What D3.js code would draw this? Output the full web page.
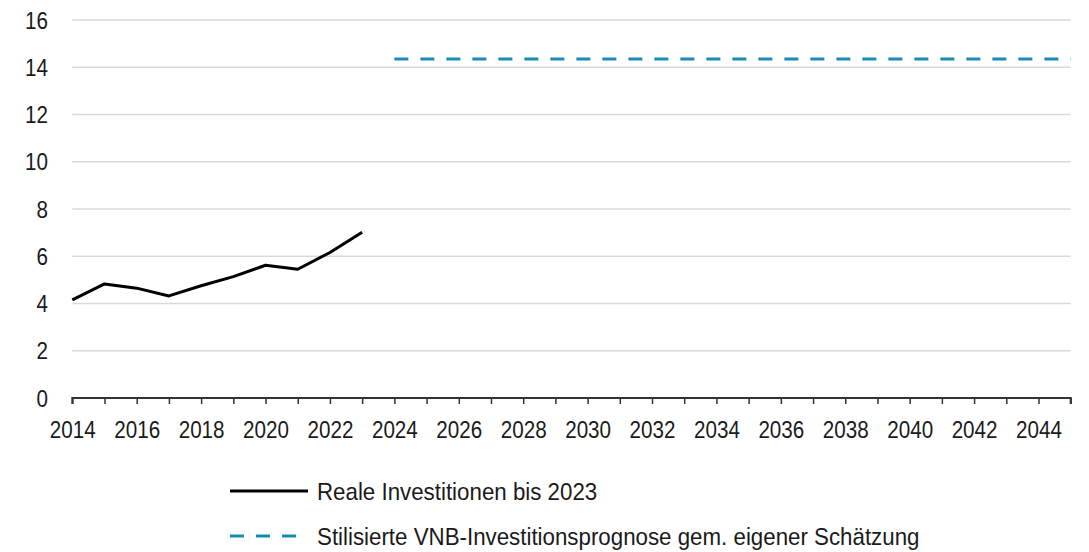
<!DOCTYPE html>
<html><head><meta charset="utf-8">
<script src="https://cdn.jsdelivr.net/npm/d3@7"></script>
<style>body{margin:0;background:#fff}svg text{font-family:"Liberation Sans",Arial,sans-serif;fill:#1a1a1a}</style>
</head><body><svg id="c" width="1089" height="552"></svg>
<script>
const years = [2014,2015,2016,2017,2018,2019,2020,2021,2022,2023];
const realInvest = [4.15,4.83,4.65,4.32,4.75,5.14,5.62,5.45,6.16,7.02];
const forecastYears = [2024,2045];
const forecastValues = [14.35,14.35];
const yTicks = [0,2,4,6,8,10,12,14,16];
const legendLabels = ["Reale Investitionen bis 2023","Stilisierte VNB-Investitionsprognose gem. eigener Schätzung"];

const svg = d3.select("#c");
const x = d3.scaleLinear().domain([2014,2045]).range([72.3,1070.7]);
const y = d3.scaleLinear().domain([0,16]).range([398,20]);
const sx = 0.86;

// gridlines
svg.append("g").selectAll("line").data(yTicks.filter(d=>d>0)).join("line")
  .attr("x1",x(2014)).attr("x2",x(2045)).attr("y1",d=>y(d)).attr("y2",d=>y(d))
  .attr("stroke","#d9d9d9").attr("stroke-width",1.5);

// y labels
svg.append("g").selectAll("text").data(yTicks).join("text")
  .attr("transform",d=>`translate(48,${y(d)}) scale(${sx},1)`).attr("dy","0.36em").attr("text-anchor","end")
  .attr("font-size",24).text(d=>d);

// x axis
const xAxis = d3.axisBottom(x).tickValues(d3.range(2014,2046)).tickSize(6).tickFormat(d=> (d%2===0 && d<2045)? d : "");
const gx = svg.append("g").attr("transform",`translate(0,${y(0)})`).call(xAxis);
gx.select(".domain").attr("stroke","#333").attr("stroke-width",2).attr("d",`M${x(2014)},6V0H${x(2045)}V6`);
gx.selectAll(".tick line").attr("stroke","#333").attr("stroke-width",1.5);
gx.selectAll(".tick text").attr("font-size",24).attr("y",0).attr("dy","0").attr("fill","#1a1a1a")
  .attr("transform",`translate(0,40) scale(${sx},1)`)
  .style("font-family",'"Liberation Sans",Arial,sans-serif');

// real line
svg.append("path").datum(years.map((d,i)=>[d,realInvest[i]]))
  .attr("d",d3.line().x(d=>x(d[0])).y(d=>y(d[1])))
  .attr("fill","none").attr("stroke","#000").attr("stroke-width",3).attr("stroke-linejoin","round");

// forecast line
svg.append("path").datum(forecastYears.map((d,i)=>[d,forecastValues[i]]))
  .attr("d",d3.line().x(d=>x(d[0])).y(d=>y(d[1])))
  .attr("fill","none").attr("stroke","#1a8bb3").attr("stroke-width",3).attr("stroke-dasharray","14,12");

// legend
const lg = svg.append("g");
lg.append("line").attr("x1",230).attr("x2",308).attr("y1",491).attr("y2",491).attr("stroke","#000").attr("stroke-width",3);
lg.append("line").attr("x1",230).attr("x2",308).attr("y1",536).attr("y2",536).attr("stroke","#1a8bb3").attr("stroke-width",3).attr("stroke-dasharray","14,12");
lg.selectAll("text").data(legendLabels).join("text")
  .attr("transform",(d,i)=>`translate(317,${491+i*45}) scale(0.93,1)`).attr("dy","0.36em").attr("font-size",24).text(d=>d);
</script></body></html>
